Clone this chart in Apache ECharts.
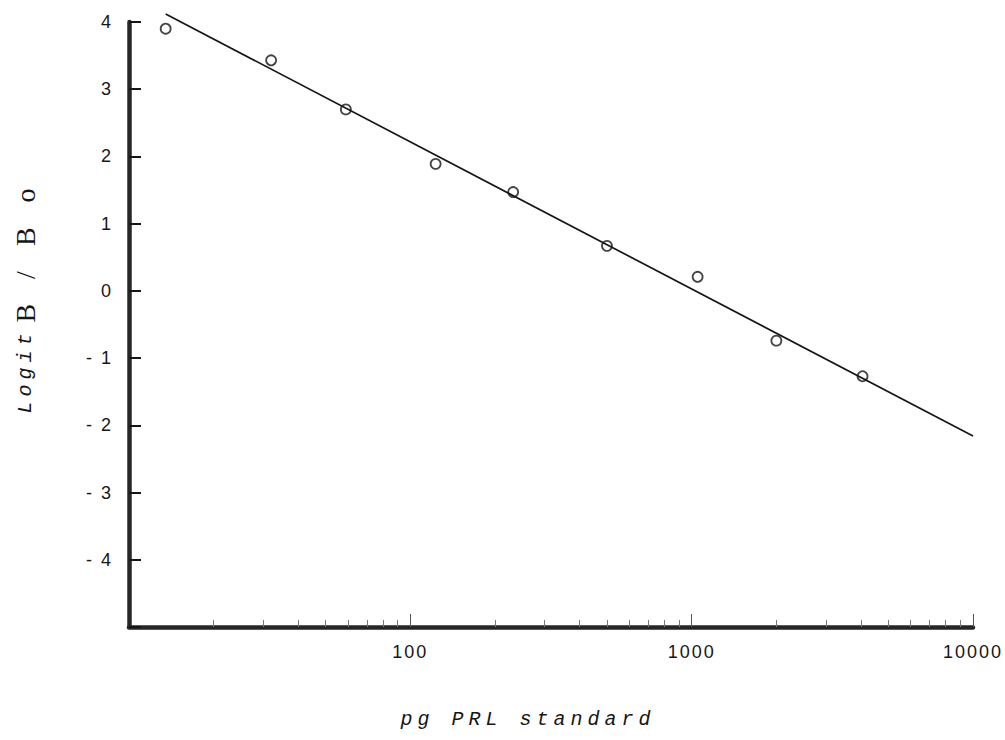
<!DOCTYPE html>
<html>
<head>
<meta charset="utf-8">
<title>Logit B/Bo vs pg PRL standard</title>
<script src="https://cdn.jsdelivr.net/npm/echarts@6/dist/echarts.min.js"></script>
<style>
    html, body { margin: 0; padding: 0; background: #fff; }
    #chart { width: 1005px; height: 740px; }
</style>
</head>
<body>
<div id="chart"></div>
<script>
// standard curve points (pg PRL, logit B/Bo)
const doses = [13.5, 32, 59, 123, 232, 500, 1050, 2000, 4050];
const logits = [3.90, 3.43, 2.70, 1.89, 1.47, 0.67, 0.21, -0.74, -1.27];

// fitted regression line, end points
const fitDoses = [13.5, 10000];
const fitLogits = [4.12, -2.16];

// x axis ticks
const majorTicks = [100, 1000, 10000];
const minorTicks = [20, 30, 40, 50, 60, 70, 80, 90,
    200, 300, 400, 500, 600, 700, 800, 900,
    2000, 3000, 4000, 5000, 6000, 7000, 8000, 9000];

const ink = '#161616';

const chart = echarts.init(document.getElementById('chart'), null, { renderer: 'svg' });

const option = {
    animation: false,
    backgroundColor: '#fff',
    grid: { left: 129, right: 32, top: 22, bottom: 113, outerBoundsMode: 'none' },
    xAxis: [
        {
            type: 'log',
            logBase: 10,
            min: 10,
            max: 10000,
            name: 'pg PRL standard',
            nameLocation: 'middle',
            nameGap: 82,
            nameMoveOverlap: false,
            nameTextStyle: {
                fontFamily: 'Liberation Mono',
                fontStyle: 'italic',
                fontSize: 20,
                color: ink,
                padding: [0, 46, 0, 0]
            },
            axisLine: { onZero: false, lineStyle: { color: '#262626', width: 4.5 } },
            axisTick: {
                inside: true,
                length: 13,
                customValues: majorTicks,
                lineStyle: { color: '#555', width: 1 }
            },
            axisLabel: {
                customValues: majorTicks,
                margin: 16,
                fontFamily: 'Liberation Sans',
                fontSize: 18,
                color: ink,
                formatter: v => String(v)
            },
            splitLine: { show: false }
        },
        {
            type: 'log',
            logBase: 10,
            min: 10,
            max: 10000,
            position: 'bottom',
            axisLine: { show: false, onZero: false },
            axisTick: {
                inside: true,
                length: 7,
                customValues: minorTicks,
                lineStyle: { color: '#777', width: 1 }
            },
            axisLabel: { show: false },
            splitLine: { show: false }
        }
    ],
    yAxis: {
        type: 'value',
        min: -5,
        max: 4,
        interval: 1,
        name: '{a|Logit}{b|B / B o}',
        nameLocation: 'middle',
        nameGap: 90,
        nameMoveOverlap: false,
        nameTextStyle: {
            padding: [0, 0, 0, 50],
            rich: {
                a: {
                    fontFamily: 'Liberation Mono',
                    fontStyle: 'italic',
                    fontSize: 20,
                    color: ink,
                    width: 97
                },
                b: {
                    fontFamily: 'Liberation Serif',
                    fontSize: 28,
                    color: ink,
                    width: 143
                }
            }
        },
        axisLine: { onZero: false, lineStyle: { color: '#262626', width: 4.5 } },
        axisTick: { inside: true, length: 12, lineStyle: { color: ink, width: 2 } },
        axisLabel: {
            margin: 16,
            fontFamily: 'Liberation Sans',
            fontSize: 18,
            color: ink,
            formatter: function (v) {
                if (v === -5) return '';
                return v < 0 ? '- ' + (-v) : String(v);
            }
        },
        splitLine: { show: false }
    },
    series: [
        {
            type: 'line',
            data: fitDoses.map((d, i) => [d, fitLogits[i]]),
            symbol: 'none',
            clip: false,
            silent: true,
            lineStyle: { color: ink, width: 1.7 }
        },
        {
            type: 'scatter',
            data: doses.map((d, i) => [d, logits[i]]),
            symbol: 'circle',
            symbolSize: 10,
            itemStyle: { color: '#fff', borderColor: ink, borderWidth: 1.8 }
        }
    ]
};

chart.setOption(option);

// typewriter-like spacing of the axis titles and tick labels
function spaceLetters() {
    document.querySelectorAll('#chart text').forEach(t => {
        const s = t.textContent.trim();
        if (s === 'pg PRL standard' || s === 'Logit') {
            t.style.letterSpacing = '5px';
        } else if (s === 'B / B o') {
            t.style.letterSpacing = '9px';
        } else if (/^[-\d ]+$/.test(s)) {
            t.style.letterSpacing = '2px';
        }
    });
}
spaceLetters();
chart.on('finished', spaceLetters);
</script>
</body>
</html>
